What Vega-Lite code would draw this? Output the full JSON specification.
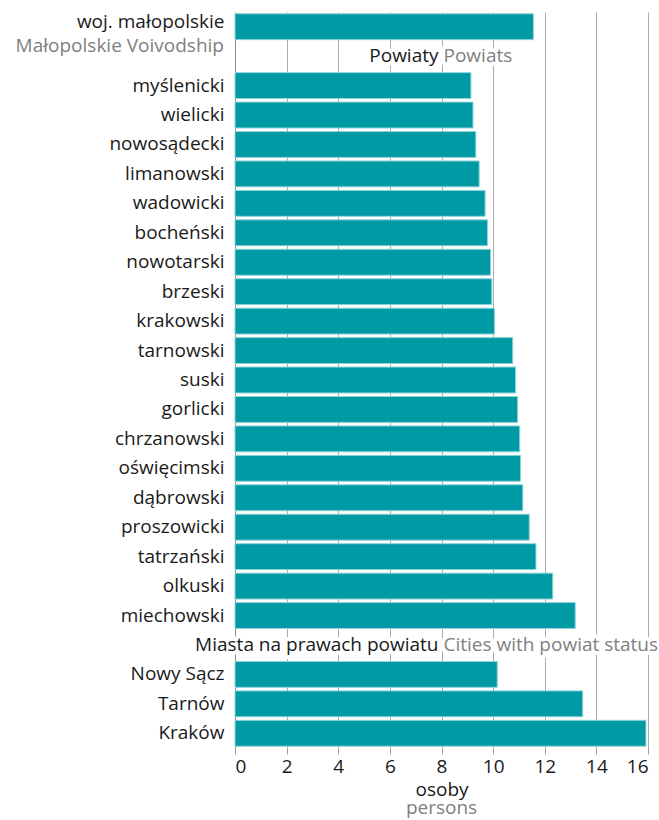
{
  "$schema": "https://vega.github.io/schema/vega-lite/v6.json",
  "width": 413,
  "height": 736,
  "autosize": "none",
  "padding": {"left": 235, "top": 12, "right": 11, "bottom": 72},
  "background": "white",
  "config": {
    "view": {"stroke": null},
    "font": "Open Sans",
    "text": {"font": "Open Sans"}
  },
  "title": {
    "text": "persons",
    "orient": "bottom",
    "anchor": "middle",
    "frame": "group",
    "color": "#7f7f7f",
    "fontSize": 19,
    "fontWeight": "normal",
    "font": "Open Sans",
    "offset": 0
  },
  "data": {
    "values": [
      {"name": "woj. małopolskie", "value": 11.56, "en": "Małopolskie Voivodship"},
      {"name": "#1", "pl": "Powiaty", "en": "Powiats"},
      {"name": "myślenicki", "value": 9.14},
      {"name": "wielicki", "value": 9.22},
      {"name": "nowosądecki", "value": 9.33},
      {"name": "limanowski", "value": 9.46},
      {"name": "wadowicki", "value": 9.69},
      {"name": "bocheński", "value": 9.78},
      {"name": "nowotarski", "value": 9.9},
      {"name": "brzeski", "value": 9.95},
      {"name": "krakowski", "value": 10.05},
      {"name": "tarnowski", "value": 10.76},
      {"name": "suski", "value": 10.87},
      {"name": "gorlicki", "value": 10.95},
      {"name": "chrzanowski", "value": 11.03},
      {"name": "oświęcimski", "value": 11.06},
      {"name": "dąbrowski", "value": 11.15},
      {"name": "proszowicki", "value": 11.4},
      {"name": "tatrzański", "value": 11.66},
      {"name": "olkuski", "value": 12.31},
      {"name": "miechowski", "value": 13.18},
      {"name": "#2", "pl": "Miasta na prawach powiatu", "en": "Cities with powiat status"},
      {"name": "Nowy Sącz", "value": 10.16},
      {"name": "Tarnów", "value": 13.47},
      {"name": "Kraków", "value": 15.92}
    ]
  },
  "encoding": {
    "y": {
      "field": "name",
      "type": "nominal",
      "scale": {
        "domain": ["woj. małopolskie", "#1", "myślenicki", "wielicki", "nowosądecki", "limanowski", "wadowicki", "bocheński", "nowotarski", "brzeski", "krakowski", "tarnowski", "suski", "gorlicki", "chrzanowski", "oświęcimski", "dąbrowski", "proszowicki", "tatrzański", "olkuski", "miechowski", "#2", "Nowy Sącz", "Tarnów", "Kraków"],
        "paddingInner": 0.12,
        "paddingOuter": 0.06
      },
      "axis": {
        "title": null,
        "domain": false,
        "ticks": false,
        "grid": false,
        "labelFontSize": 19,
        "labelFont": "Open Sans",
        "labelColor": "#1a1a1a",
        "labelPadding": 11,
        "labelLimit": 300,
        "labelExpr": "indexof(datum.label, '#') == 0 ? '' : datum.label",
        "labelOffset": {"condition": {"test": "datum.value === 'woj. małopolskie'", "value": -5}, "value": 0}
      }
    }
  },
  "layer": [
    {
      "transform": [{"filter": "isValid(datum.value)"}],
      "mark": {"type": "bar", "color": "#009aa5", "stroke": "#8fd4d9", "strokeWidth": 1},
      "encoding": {
        "x": {
          "field": "value",
          "type": "quantitative",
          "scale": {"domain": [0, 16], "nice": false},
          "axis": {
            "values": [0, 2, 4, 6, 8, 10, 12, 14, 16],
            "grid": true,
            "gridColor": {"condition": {"test": "datum.value === 0", "value": "#8c8c8c"}, "value": "#ababab"},
            "gridWidth": 1,
            "domain": false,
            "ticks": true,
            "tickColor": "#9a9a9a",
            "tickSize": 6,
            "labelFontSize": 19,
            "labelFont": "Open Sans",
            "labelColor": "#1a1a1a",
            "labelPadding": 3,
            "title": "osoby",
            "titleFont": "Open Sans",
            "titleFontSize": 19,
            "titleFontWeight": "normal",
            "titleColor": "#1a1a1a",
            "titlePadding": 4
          }
        }
      }
    },
    {
      "transform": [{"filter": "datum.name === 'woj. małopolskie'"}],
      "mark": {"type": "text", "align": "right", "baseline": "middle", "dx": -11, "dy": 19, "fontSize": 19, "color": "#7f7f7f"},
      "encoding": {"x": {"datum": 0, "type": "quantitative"}, "text": {"field": "en"}}
    },
    {
      "transform": [{"filter": "isValid(datum.pl)"}],
      "mark": {"type": "text", "align": "right", "baseline": "middle", "dx": -3, "fontSize": 19, "color": "white", "stroke": "white", "strokeWidth": 8, "strokeJoin": "round"},
      "encoding": {"x": {"datum": 8, "type": "quantitative"}, "text": {"field": "pl"}}
    },
    {
      "transform": [{"filter": "isValid(datum.pl)"}],
      "mark": {"type": "text", "align": "left", "baseline": "middle", "dx": 2, "fontSize": 19, "color": "white", "stroke": "white", "strokeWidth": 8, "strokeJoin": "round"},
      "encoding": {"x": {"datum": 8, "type": "quantitative"}, "text": {"field": "en"}}
    },
    {
      "transform": [{"filter": "isValid(datum.pl)"}],
      "mark": {"type": "text", "align": "right", "baseline": "middle", "dx": -3, "fontSize": 19, "color": "#1a1a1a"},
      "encoding": {"x": {"datum": 8, "type": "quantitative"}, "text": {"field": "pl"}}
    },
    {
      "transform": [{"filter": "isValid(datum.pl)"}],
      "mark": {"type": "text", "align": "left", "baseline": "middle", "dx": 2, "fontSize": 19, "color": "#7f7f7f"},
      "encoding": {"x": {"datum": 8, "type": "quantitative"}, "text": {"field": "en"}}
    }
  ]
}
